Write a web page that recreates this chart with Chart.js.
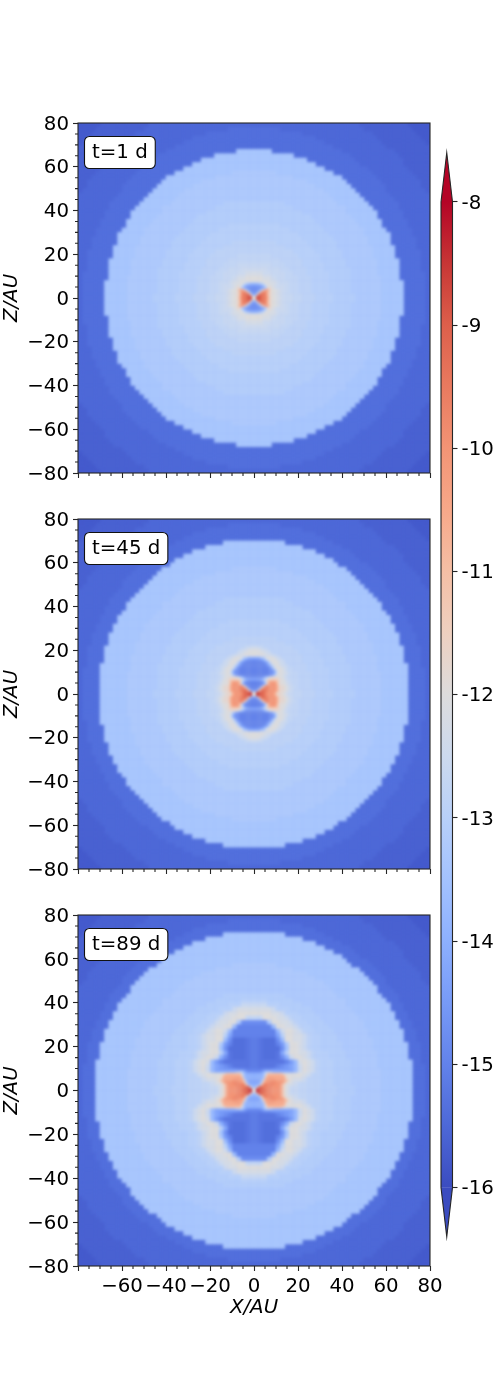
<!DOCTYPE html>
<html>
<head>
<meta charset="utf-8">
<style>
  html, body { margin: 0; padding: 0; background: #fff; }
  body { position: relative; width: 496px; height: 1389px; overflow: hidden; }
  canvas { position: absolute; display: block; }
</style>
<script src="https://cdn.jsdelivr.net/npm/chart.js@4/dist/chart.umd.min.js"></script>
</head>
<body>
<script>
// log density maps, upper right quadrant only, mirrored when drawn.
// Each token is one level character and a run length. "." keeps what is below, a short row stops early.
// Digits and lower case: base 36, 0.25 dex per step from -16. Upper case: the half steps in halfLevels.
const halfLevels = { X: -15.625, Y: -15.375, Z: -15.125, A: -13.625, B: -13.375, C: -13.125, D: -12.875, E: -12.625 };

// Outside the discs, same in all panels, 2 AU cells from Z=80 down to Z=0
const outerRows = [
  "224 X11 15", "Y6 219 X11 14", "Y11 216 X10 13", "Y14 214 X10 12", "Y16 213 X10 11", "Y18 212 X10", "Y20 212 X8", "Y22 211 X7",
  "Y23 211 X6", "Y24 210 X6", "Y26 29 X5", "Y27 29 X4", "Y28 29 X3", "Y29 29 X2", "Y30 28 X2", "Y30 29 X1",
  "Y31 29", "Y32 28", "Y33 27", "Y33 27", "Y34 26", "Y34 26", "Y35 25", "Y35 25", "Y36 24", "Y36 24", "Y37 23", "Y37 23", "Y37 23",
  "Y38 22", "Y38 22", "Y38 22", "Y38 22", "Y38 22", "Y39 21", "Y39 21", "Y39 21", "Y39 21", "Y39 21", "Y39 21"
];

// t=1 d, 2 AU cells from Z=80 down to Z=0
const disc1Rows = [
  "", "", "", "", "", "", "B4", "B9", "B12", "B14", "B16",
  "b5 B13", "b9 B11", "b12 B9", "b14 B8", "b16 B7", "b17 B7", "b18 B7",
  "C7 b12 B7", "C9 b12 B6", "C11 b10 B7", "C13 b9 B6", "C14 b9 B6",
  "c6 C9 b9 B5", "c8 C8 b9 B5", "c10 C7 b8 B6", "c11 C7 b8 B5", "D5 c7 C7 b7 B5", "D7 c6 C6 b8 B5", "D9 c5 C6 b7 B5",
  "d4 D6 c5 C5 b7 B5", "d6 D5 c4 C6 b7 B5", "E4 d3 D4 c5 C5 b7 B5", "e3 E3 d2 D4 c4 C6 b6 B5", "f2 e2 E3 d2 D3 c5 C5 b6 B5",
  "g2 f2 e1 E2 d3 D3 c4 C5 b7 B4", "g4 f1 e1 E2 d2 D3 c4 C5 b7 B5", "g4 f1 e2 E1 d2 D3 c4 C5 b7 B5",
  "g5 f1 e1 E1 d2 D3 c4 C5 b7 B5", "g5 f1 e1 E2 d2 D3 c4 C5 b6 B5"
];
// t=1 d centre, 1 AU cells from Z=8 down to Z=0
const core1Rows = [
  "g6 f2", "92 a1 c1 e1 g2 f1", "63 71 a1 e1 g2", "53 61 81 b1 h2",
  "52 61 c1 k1 n1 m1 h1", "51 61 f1 p1 q1 p1 k1 h1", "71 g1 s1 r1 q1 p1 k1 h1", "g1 t2 r1 q1 p1 l1 h1"
];

// t=45 d
const disc2Rows = [
  "", "", "", "", "", "B7", "B11", "B14", "B16", "B18", "B19",
  "b5 B16", "b9 B13", "b12 B11", "b14 B10", "b16 B9", "b17 B9", "b18 B9",
  "C7 b12 B9", "C9 b12 B8", "C11 b10 B8", "C13 b9 B8", "C14 b9 B8",
  "c6 C9 b9 B7", "c8 C8 b9 B7", "c10 C7 b8 B7", "c11 C7 b8 B7", "D5 c7 C7 b7 B7", "D7 c6 C6 b8 B6", "D9 c5 C6 b7 B7",
  "d4 D6 c5 C5 b7 B7", "d6 D5 c4 C6 b7 B6", "E4 d3 D4 c5 C5 b7 B6", "e3 E3 d2 D4 c4 C6 b6 B7", "f2 e2 E3 d2 D3 c5 C5 b6 B7",
  "g2 f2 e1 E2 d3 D3 c4 C5 b7 B6", "g4 f1 e1 E2 d2 D3 c4 C5 b7 B6", "g4 f1 e2 E1 d2 D3 c4 C5 b7 B6",
  "g5 f1 e1 E1 d2 D3 c4 C5 b7 B6", "g5 f1 e1 E2 d2 D3 c4 C5 b6 B6"
];
// t=45 d centre, 1 AU cells from Z=22 down to Z=0
const core2Rows = [
  "e2 E2 .14", "f3 e1 E2 .12", "g3 f2 e2 .11", "g4 f2 e2 .10", "g5 f3 e2 .8",
  "83 b2 f1 g3 f1 e2 .6", "53 61 81 c1 f1 g3 f1 e2 .5", "44 51 61 91 e1 g3 f1 e2 .4", "45 51 71 b1 f1 g2 f1 e2 .4",
  "46 51 71 c1 f1 g2 f1 e2 .3", "47 51 81 e1 g3 f1 e1 .3", "47 52 81 e1 g2 f1 e1 .3", "47 52 81 e1 g2 f2 e1 .2",
  "47 51 71 b1 f1 g2 f1 e1 E1 .2", "54 71 a1 d1 g1 h3 g2 f1 e1 E1 .2", "73 81 c1 f1 h1 i4 h1 g2 e1 E1 .2",
  "43 51 71 d1 k1 n3 k1 h1 g2 f1 e1 E1 .1", "44 61 c1 k1 o3 l1 h1 g2 f1 e1 E1 .1",
  "43 71 i1 p2 o3 m1 i1 h2 g1 f1 e1 E1", "42 71 k1 q2 p1 o3 m1 i1 h2 g1 f1 e1 E1",
  "61 91 k1 s1 r1 q1 p1 o3 m1 i1 h2 g1 f1 e1 E1", "g1 u1 t1 s1 r1 p1 o3 m1 i1 h2 g1 f1 e1 E1"
];

// t=89 d
const disc3Rows = [
  "", "", "", "", "B7", "B11", "B14", "B16", "B18", "B20", "B21",
  "b5 B17", "b9 B15", "b12 B13", "b14 B12", "b16 B11", "b17 B11", "b18 B10", "C7 b12 B10",
  "c3 C6 b12 B9",
  "E3 c3 C5 b10 B10",
  "f4 e1 c3 C5 b9 B9",
  "g4 f2 e1 c3 C4 b9 B9",
  "d2 g3 f2 e1 D1 c2 C4 b9 B8",
  "53 b1 g2 f2 e1 D1 c2 C4 b9 B8",
  "44 91 g2 f2 e1 D1 c2 C4 b8 B8",
  "45 91 e1 g2 f1 e1 D1 c2 C4 b8 B8",
  "45 71 c1 g2 f2 e1 D1 c2 C4 b7 B8",
  "Z1 31 Y3 51 91 g2 f2 e1 D1 c2 C4 b8 B7",
  "Z1 31 Y3 41 61 b1 g2 f1 e1 D1 c2 C5 b7 B8",
  "Z1 31 Y4 51 a1 g2 f1 e1 D1 c2 C5 b7 B8",
  "Z1 31 Y3 31 71 c1 g2 f2 e1 D1 c3 C4 b7 B7",
  "Z1 31 Y3 31 51 81 e1 g2 f1 e1 D1 c3 C4 b7 B7",
  "Z1 36 41 61 91 f1 g1 f1 e1 D1 c3 C4 b6 B8",
  "Z1 34 41 51 61 71 91 e1 g1 f1 e1 D1 c3 C4 b6 B8",
  "Z1 34 41 51 61 71 91 e1 g1 f1 e1 D1 c3 C4 b7 B7",
  "g11 f1 e1 D2 c3 C4 b7 B7",
  "g9 f2 e1 D3 c3 C4 b7 B7",
  "f9 e1 d2 D3 c3 C4 b7 B7",
  "e8 E2 d2 D3 c4 C4 b6 B7"
];
// t=89 d centre, 1 AU cells from Z=10 down to Z=0
const core3Rows = [
  "44 54 68", "53 61 81 b3 91 87", "84 a1 e1 k7 h1 g2", "84 a1 i1 m8 i1 g1", "84 b1 l1 n3 m5 i1 g1",
  "73 91 i1 n2 o3 n4 l1 i1", "73 c1 l1 o2 p3 o3 m1 i1 g1", "82 a1 k1 q2 p3 o3 m1 i1 g1 f1",
  "91 g1 s2 q1 p3 o4 m1 i1 g1 f1", "g1 v1 t1 s1 r1 q1 p2 o4 m1 i1 g1 f1"
];

const panelLabels = ['t=1 d', 't=45 d', 't=89 d'];
const xTicks = [-80, -60, -40, -20, 0, 20, 40, 60, 80];
const yTicks = [-80, -60, -40, -20, 0, 20, 40, 60, 80];
const minorTicks = [-75, -70, -65, -55, -50, -45, -35, -30, -25, -15, -10, -5, 5, 10, 15, 25, 30, 35, 45, 50, 55, 65, 70, 75];
const colorbarTicks = [-16, -15, -14, -13, -12, -11, -10, -9, -8];
// coolwarm, one colour every 0.5 dex from -16 to -8
const coolwarmStops = ['#3b4cc0', '#4d68d7', '#6282ea', '#779af7', '#8db0fe', '#a3c2fe', '#b8d0f9', '#ccd9ee', '#dddcdc',
  '#eed0c0', '#f5bfa5', '#f7a889', '#f39475', '#e97a5f', '#dd5f4b', '#c73635', '#b40426'];

const FONT = "'DejaVu Sans', sans-serif";
const FONT_SIZE = 19.8;
const INK = '#262626';

function hexToRgb(hex) {
  return [1, 3, 5].map(i => parseInt(hex.slice(i, i + 2), 16));
}

function levelColor(v) {
  const t = Math.max(0, Math.min(1, (v + 16) / 8)) * (coolwarmStops.length - 1);
  const i = Math.min(Math.floor(t), coolwarmStops.length - 2);
  const a = hexToRgb(coolwarmStops[i]);
  const b = hexToRgb(coolwarmStops[i + 1]);
  const f = t - i;
  return `rgb(${a.map((c, k) => Math.round(c + (b[k] - c) * f)).join(',')})`;
}

function levelValue(ch) {
  return ch in halfLevels ? halfLevels[ch] : parseInt(ch, 36) * 0.25 - 16;
}

// Unpack the run length rows into mirrored cells
function buildCells(rows, topZ, size) {
  const cells = [];
  rows.forEach((row, i) => {
    if (!row) return;
    const z = topZ - (i + 0.5) * size;
    let col = 0;
    row.split(' ').forEach(token => {
      const count = Number(token.slice(1));
      if (token[0] !== '.') {
        const v = levelValue(token[0]);
        for (let k = 0; k < count; k++) {
          const x = (col + k + 0.5) * size;
          cells.push({ x: x, y: z, v: v }, { x: -x, y: z, v: v }, { x: x, y: -z, v: v }, { x: -x, y: -z, v: v });
        }
      }
      col += count;
    });
  });
  return cells;
}

function cellDataset(data, size, order) {
  return {
    data: data,
    order: order,
    pointStyle: 'rect',
    borderWidth: 0,
    pointBorderWidth: 0,
    backgroundColor: ctx => levelColor(ctx.raw.v),
    // rect half side is radius * sqrt(1/2), a little extra closes the seams
    pointRadius: ctx => {
      const area = ctx.chart.chartArea;
      const px = area ? area.width / 160 * size : size * 2.2;
      return (px * 1.12) / Math.SQRT2;
    },
    pointHoverRadius: 0
  };
}

const softenPlugin = {
  id: 'soften',
  afterDatasetsDraw(chart) {
    const { ctx, chartArea: a, canvas } = chart;
    ctx.save();
    ctx.beginPath();
    ctx.rect(a.left, a.top, a.width, a.height);
    ctx.clip();
    ctx.filter = 'blur(1.5px)';
    ctx.drawImage(canvas, a.left, a.top, a.width, a.height, a.left, a.top, a.width, a.height);
    ctx.restore();
  }
};

const framePlugin = {
  id: 'frame',
  afterDraw(chart, args, opts) {
    const { ctx, chartArea: a, scales } = chart;
    ctx.save();
    ctx.strokeStyle = INK;
    ctx.lineWidth = 1.1;
    ctx.strokeRect(a.left, a.top, a.width, a.height);
    // minor ticks
    ctx.beginPath();
    minorTicks.forEach(v => {
      const px = scales.x.getPixelForValue(v);
      ctx.moveTo(px, a.bottom);
      ctx.lineTo(px, a.bottom + 3);
      const py = scales.y.getPixelForValue(v);
      ctx.moveTo(a.left, py);
      ctx.lineTo(a.left - 3, py);
    });
    ctx.stroke();
    // time label
    ctx.font = `${FONT_SIZE}px ${FONT}`;
    const w = ctx.measureText(opts.label).width;
    const bx = a.left + 6.5, by = a.top + 13.5, bw = w + 15, bh = 32;
    ctx.beginPath();
    ctx.roundRect(bx, by, bw, bh, 5);
    ctx.fillStyle = '#fff';
    ctx.fill();
    ctx.strokeStyle = '#111';
    ctx.lineWidth = 1.1;
    ctx.stroke();
    ctx.fillStyle = '#000';
    ctx.textBaseline = 'middle';
    ctx.textAlign = 'left';
    ctx.fillText(opts.label, bx + 7.5, by + bh / 2 + 0.5);
    ctx.restore();
  }
};

function formatTick(v) {
  return String(v).replace('-', '\u2212');
}

function makePanel(index, discRows, coreRows, coreTop, areaTop, areaHeight, showX) {
  const canvas = document.createElement('canvas');
  const padTop = 20;
  const xBand = showX ? 54 : 26;
  canvas.width = 446;
  canvas.height = padTop + areaHeight + xBand;
  canvas.style.left = '0px';
  canvas.style.top = (areaTop - padTop) + 'px';
  document.body.appendChild(canvas);

  new Chart(canvas, {
    type: 'scatter',
    data: {
      datasets: [
        cellDataset(buildCells(coreRows, coreTop, 1), 1, 0),
        cellDataset(buildCells(discRows, 80, 2), 2, 1),
        cellDataset(buildCells(outerRows, 80, 2), 2, 2)
      ]
    },
    options: {
      responsive: false,
      animation: false,
      events: [],
      layout: { autoPadding: false, padding: { top: padTop, right: 16, left: 0, bottom: 0 } },
      plugins: {
        legend: { display: false },
        tooltip: { enabled: false },
        frame: { label: panelLabels[index] }
      },
      scales: {
        x: {
          type: 'linear',
          min: -80,
          max: 80,
          afterBuildTicks: s => { s.ticks = xTicks.map(v => ({ value: v })); },
          afterFit: s => { s.height = xBand; s.paddingLeft = 0; s.paddingRight = 0; },
          grid: { drawOnChartArea: false, tickLength: 5, tickWidth: 1.1, tickColor: INK },
          border: { display: false },
          ticks: {
            display: showX,
            z: 1,
            autoSkip: false,
            maxRotation: 0,
            padding: 4,
            color: '#000',
            font: { family: FONT, size: FONT_SIZE },
            callback: v => (v === -80 ? '' : formatTick(v))
          },
          title: {
            display: showX,
            text: 'X/AU',
            color: '#000',
            padding: 0,
            font: { family: FONT, size: FONT_SIZE, style: 'italic' }
          }
        },
        y: {
          type: 'linear',
          min: -80,
          max: 80,
          afterBuildTicks: s => { s.ticks = yTicks.map(v => ({ value: v })); },
          afterFit: s => { s.width = 78; s.paddingTop = 0; s.paddingBottom = 0; },
          grid: { drawOnChartArea: false, tickLength: 5, tickWidth: 1.1, tickColor: INK },
          border: { display: false },
          ticks: {
            z: 1,
            autoSkip: false,
            padding: 4,
            labelOffset: 1.5,
            color: '#000',
            font: { family: FONT, size: FONT_SIZE },
            callback: v => formatTick(v)
          },
          title: {
            display: true,
            text: 'Z/AU',
            color: '#000',
            padding: 0,
            font: { family: FONT, size: FONT_SIZE, style: 'italic' }
          }
        }
      }
    },
    plugins: [softenPlugin, framePlugin]
  });
}

makePanel(0, disc1Rows, core1Rows, 8, 122.7, 350.5, false);
makePanel(1, disc2Rows, core2Rows, 22, 518.7, 350.5, false);
makePanel(2, disc3Rows, core3Rows, 10, 914.9, 351, true);

// Colour bar with its two end arrows
const colorbarEnds = { low: -16.4, high: -7.6 };

const arrowPlugin = {
  id: 'arrows',
  afterDatasetsDraw(chart) {
    const { ctx, chartArea: a, scales } = chart;
    const y = scales.y;
    const mid = (a.left + a.right) / 2;
    const top = y.getPixelForValue(-8);
    const bottom = y.getPixelForValue(-16);
    ctx.save();
    ctx.fillStyle = coolwarmStops[coolwarmStops.length - 1];
    ctx.beginPath();
    ctx.moveTo(a.left, top);
    ctx.lineTo(mid, y.getPixelForValue(colorbarEnds.high));
    ctx.lineTo(a.right, top);
    ctx.closePath();
    ctx.fill();
    ctx.fillStyle = coolwarmStops[0];
    ctx.beginPath();
    ctx.moveTo(a.left, bottom);
    ctx.lineTo(mid, y.getPixelForValue(colorbarEnds.low));
    ctx.lineTo(a.right, bottom);
    ctx.closePath();
    ctx.fill();
    // outline
    ctx.strokeStyle = INK;
    ctx.lineWidth = 1.1;
    ctx.beginPath();
    ctx.moveTo(mid, y.getPixelForValue(colorbarEnds.high));
    ctx.lineTo(a.right, top);
    ctx.lineTo(a.right, bottom);
    ctx.lineTo(mid, y.getPixelForValue(colorbarEnds.low));
    ctx.lineTo(a.left, bottom);
    ctx.lineTo(a.left, top);
    ctx.closePath();
    ctx.stroke();
    ctx.restore();
  }
};

const cbCanvas = document.createElement('canvas');
cbCanvas.width = 66;
cbCanvas.height = 1110;
cbCanvas.style.left = '430px';
cbCanvas.style.top = '140px';
document.body.appendChild(cbCanvas);

new Chart(cbCanvas, {
  type: 'bar',
  data: {
    labels: ['density'],
    datasets: [{
      data: [[-16, -8]],
      barPercentage: 1,
      categoryPercentage: 1,
      borderWidth: 0,
      backgroundColor: ctx => {
        const chart = ctx.chart;
        if (!chart.chartArea) return coolwarmStops[0];
        const y = chart.scales.y;
        const g = chart.ctx.createLinearGradient(0, y.getPixelForValue(-16), 0, y.getPixelForValue(-8));
        coolwarmStops.forEach((c, i) => g.addColorStop(i / (coolwarmStops.length - 1), c));
        return g;
      }
    }]
  },
  options: {
    responsive: false,
    animation: false,
    events: [],
    layout: { autoPadding: false, padding: { top: 12.7, bottom: 13.3, left: 11, right: 0 } },
    plugins: { legend: { display: false }, tooltip: { enabled: false } },
    scales: {
      x: { display: false },
      y: {
        type: 'linear',
        position: 'right',
        min: colorbarEnds.low,
        max: colorbarEnds.high,
        afterBuildTicks: s => { s.ticks = colorbarTicks.map(v => ({ value: v })); },
        afterFit: s => { s.width = 43.5; s.paddingTop = 0; s.paddingBottom = 0; },
        grid: { drawOnChartArea: false, tickLength: 5, tickWidth: 1.1, tickColor: INK },
        border: { display: false },
        ticks: {
          autoSkip: false,
          padding: 4,
          labelOffset: 1.5,
          color: '#000',
          font: { family: FONT, size: FONT_SIZE },
          callback: v => String(v)
        }
      }
    }
  },
  plugins: [arrowPlugin]
});
</script>
</body>
</html>
